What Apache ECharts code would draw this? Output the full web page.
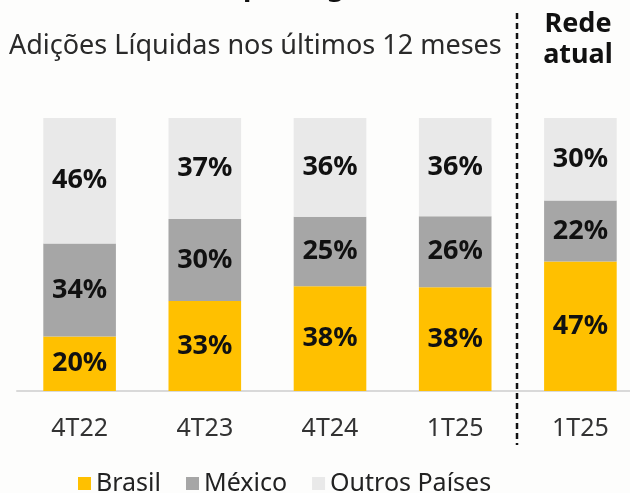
<!DOCTYPE html>
<html>
<head>
<meta charset="utf-8">
<script src="https://cdn.jsdelivr.net/npm/echarts@6/dist/echarts.min.js"></script>
<style>
  html, body { margin: 0; padding: 0; background: #fdfdfc; }
  #chart { width: 630px; height: 493px; }
</style>
</head>
<body>
<div id="chart"></div>
<script>
var categories = ['4T22', '4T23', '4T24', '1T25', '1T25'];
// shares; labels show the rounded value
var brasil = [20, 33, 38.4, 38, 47.4];
var mexico = [34, 30, 25.4, 26, 22.4];
var outros = [46, 37, 36.2, 36, 30.2];

var chart = echarts.init(document.getElementById('chart'));
var font = '"Noto Sans", sans-serif';

function seg(name, data, color) {
    return {
        name: name,
        type: 'bar',
        stack: 'total',
        barWidth: '58%',
        data: data,
        itemStyle: { color: color },
        label: {
            show: true,
            position: 'inside',
            formatter: function (p) { return Math.round(p.value) + '%'; },
            color: '#111',
            fontSize: 27,
            fontWeight: 'bold',
            fontFamily: font
        }
    };
}

var option = {
    backgroundColor: '#fdfdfc',
    animation: false,
    grid: { left: 17, width: 626, top: 118, bottom: 102, outerBoundsMode: 'none', containLabel: false },
    legend: {
        top: 466,
        left: 73,
        itemWidth: 13,
        itemHeight: 13,
        itemGap: 25,
        icon: 'rect',
        textStyle: { fontSize: 25, color: '#222', fontFamily: font },
        data: ['Brasil', 'México', 'Outros Países']
    },
    xAxis: {
        type: 'category',
        data: categories,
        axisLine: { lineStyle: { color: '#d9d9d9', width: 2 } },
        axisTick: { show: false },
        axisLabel: { fontSize: 25, color: '#333', margin: 25, fontFamily: font }
    },
    yAxis: {
        type: 'value',
        min: 0,
        max: 100,
        show: false
    },
    series: [
        seg('Brasil', brasil, '#ffc000'),
        seg('México', mexico, '#a6a6a6'),
        seg('Outros Países', outros, '#e9e9e9')
    ],
    graphic: [
        {
            type: 'text', x: 9, y: 46,
            style: { text: 'Adições Líquidas nos últimos 12 meses', fontSize: 27, fill: '#2a2a2a', fontFamily: font,
                     verticalAlign: 'middle' }
        },
        {
            type: 'text', x: 578, y: 40,
            style: { text: 'Rede\natual', fontSize: 27, fontWeight: 'bold', fill: '#111', fontFamily: font,
                     align: 'center', verticalAlign: 'middle', lineHeight: 31 }
        },
        {
            type: 'text', x: 243, y: -27,
            style: { text: 'por região', fontSize: 28, fontWeight: 'bold', fill: '#111', fontFamily: font }
        },
        {
            type: 'line',
            shape: { x1: 517, y1: 13, x2: 517, y2: 445 },
            style: { stroke: '#111', lineWidth: 2.5, lineDash: [6, 4] }
        }
    ]
};
chart.setOption(option);
</script>
</body>
</html>
